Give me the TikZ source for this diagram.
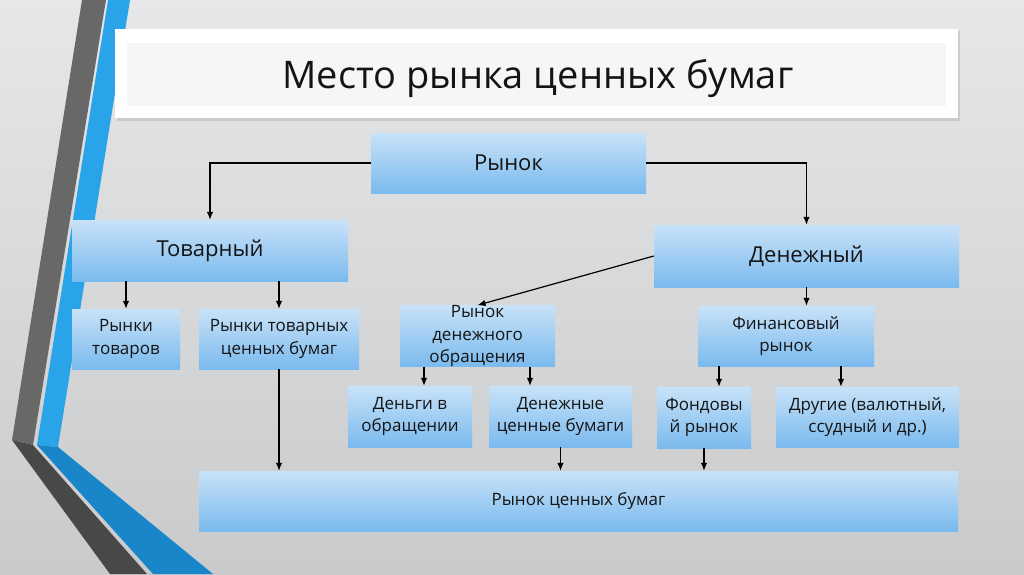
\documentclass[tikz,border=0pt]{standalone}
\usepackage{fontspec}
\setmainfont{Open Sans}
\usetikzlibrary{arrows.meta,calc,shadows}
\definecolor{bgtop}{RGB}{229,231,232}
\definecolor{bgmid}{RGB}{238,239,240}
\definecolor{bgbot}{RGB}{201,202,204}
\definecolor{grayup}{RGB}{104,104,104}
\definecolor{graylo}{RGB}{72,72,72}
\definecolor{blueup}{RGB}{42,164,232}
\definecolor{bluelo}{RGB}{24,134,200}
\definecolor{boxtop}{RGB}{200,226,248}
\definecolor{boxbot}{RGB}{122,186,238}
\definecolor{titlein}{RGB}{246,246,246}
\definecolor{txt}{RGB}{20,20,20}
\tikzset{
  box/.style={rectangle, inner sep=0pt, top color=boxtop, bottom color=boxbot,
    text=txt, align=center},
  bigtxt/.style={font=\fontsize{22}{26}\selectfont},
  smalltxt/.style={font=\fontsize{17}{22.5}\selectfont},
  arr/.style={-{Latex[length=8pt,width=6.5pt]}, line width=1.2pt, black}
}
\begin{document}
\begin{tikzpicture}[x=1pt,y=-1pt]
\useasboundingbox (0,0) rectangle (1024,574);
% background
\shade[top color=bgtop, middle color=bgmid, bottom color=bgbot] (0,0) rectangle (1024,574);
% decorative stripes
\fill[grayup] (82,0) -- (106,0) -- (33,445) -- (12,440) -- cycle;
\fill[graylo] (12,440) -- (33,445) -- (147,574) -- (110,574) -- cycle;
\fill[blueup] (108,0) -- (130,0) -- (58,447) -- (37,445) -- cycle;
\fill[bluelo] (37,445) -- (58,447) -- (213,574) -- (153,574) -- cycle;
% title box
\fill[black!30, opacity=0.45] (117,31) rectangle (960,120.5);
\fill[white] (115,29) rectangle (958,118);
\fill[titlein] (127,43) rectangle (946,106);
\node[anchor=base, text=txt, font=\fontsize{38}{42}\selectfont] (title) at (538,88) {Место рынка ценных бумаг};
% boxes
\node[box, bigtxt, minimum width=275pt, minimum height=60pt] (rynok) at (508.5,163) {Рынок};
\node[box, bigtxt, minimum width=276pt, minimum height=61pt] (tovar) at (210,250.5) {Товарный};
\node[box, bigtxt, minimum width=305pt, minimum height=62pt] (denezh) at (806.5,256) {Денежный};
\node[box, smalltxt, minimum width=108pt, minimum height=60pt] (rt) at (126,339) {Рынки\\товаров};
\node[box, smalltxt, minimum width=160pt, minimum height=60pt] (rtcb) at (279,339) {Рынки товарных\\ценных бумаг};
\node[box, smalltxt, minimum width=155pt, minimum height=60pt] (rdo) at (477.5,336) {Рынок\\денежного\\обращения};
\node[box, smalltxt, minimum width=176pt, minimum height=60pt] (fin) at (786,336) {Финансовый\\рынок};
\node[box, smalltxt, minimum width=124pt, minimum height=61pt] (dvo) at (410,416.5) {Деньги в\\обращении};
\node[box, smalltxt, minimum width=143pt, minimum height=61pt] (dcb) at (560.5,416.5) {Денежные\\ценные бумаги};
\node[box, smalltxt, minimum width=94pt, minimum height=61pt] (fond) at (704,417.5) {Фондовы\\й рынок};
\node[box, smalltxt, minimum width=183pt, minimum height=60pt] (drug) at (867.5,417) {Другие (валютный,\\ссудный и др.)};
\node[box, smalltxt, minimum width=759pt, minimum height=60pt] (rcb) at (578.5,501) {Рынок ценных бумаг};
% x positions of off-centre connectors
\coordinate (xa) at (424,0);
\coordinate (xb) at (530,0);
\coordinate (xc) at (719,0);
\coordinate (xd) at (841,0);
% connectors
\draw[arr] (rynok.west) -| (tovar.north);
\draw[arr] (rynok.east) -| (denezh.north);
\draw[arr] (denezh.west) -- (rdo.north);
\draw[arr] (rt.north |- tovar.south) -- (rt.north);
\draw[arr] (rtcb.north |- tovar.south) -- (rtcb.north);
\draw[arr] (rtcb.south) -- (rtcb.south |- rcb.north);
\draw[arr] (denezh.south) -- (denezh.south |- fin.north);
\draw[arr] (rdo.south -| xa) -- (dvo.north -| xa);
\draw[arr] (rdo.south -| xb) -- (dcb.north -| xb);
\draw[arr] (dcb.south) -- (dcb.south |- rcb.north);
\draw[arr] (fin.south -| xc) -- (fond.north -| xc);
\draw[arr] (fin.south -| xd) -- (drug.north -| xd);
\draw[arr] (fond.south) -- (fond.south |- rcb.north);
\end{tikzpicture}
\end{document}
